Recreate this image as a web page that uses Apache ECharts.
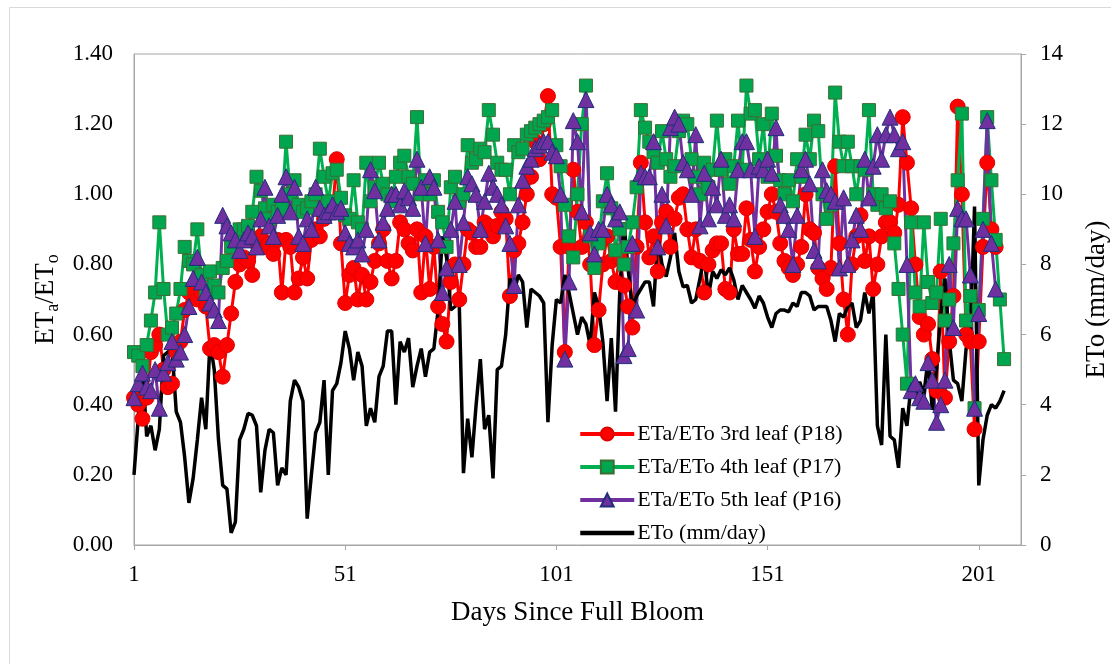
<!DOCTYPE html>
<html>
<head>
<meta charset="utf-8">
<script src="https://cdn.jsdelivr.net/npm/echarts@6/dist/echarts.min.js"></script>
<style>
html,body{margin:0;padding:0;background:#fff;}
#chart{width:1111px;height:664px;}
</style>
</head>
<body>
<div id="chart"></div>
<script>
// ---- data (day index = position + 1) ----
const xTicks = [1, 51, 101, 151, 201];
const leafNames = ['ETa/ETo 3rd leaf (P18)', 'ETa/ETo 4th leaf (P17)', 'ETa/ETo 5th leaf (P16)', 'ETo (mm/day)'];

const ratioP18 = [
 .42,.40,.36,.42,.55,.57,.60,.50,.45,.46,
 .55,.58,.67,.72,.73,.70,.72,.68,.56,.57,
 .55,.48,.57,.66,.75,.80,.82,.81,.77,.86,
 .88,.85,.86,.83,.87,.72,.87,.85,.72,.76,
 .82,.76,.87,.90,.88,.93,.96,.95,1.10,.86,
 .69,.77,.79,.70,.77,.70,.75,.81,.86,.90,
 .81,.76,.81,.92,.90,.86,.84,.90,.72,.88,
 .73,.85,.68,.63,.58,.75,.80,.70,.80,.90,
 .89,.85,.85,.92,.91,.88,.91,.95,.93,.71,
 .84,.86,.92,1.00,1.05,1.15,1.10,1.20,1.28,1.00,
 .99,.85,.55,.85,1.07,.95,.85,.92,.80,.57,
 .67,.80,.88,.81,.75,.82,.74,.68,.62,.85,
 1.09,.92,.82,.88,.78,.92,.95,.85,.93,.99,
 1.00,.90,.82,.90,.81,.72,.80,.84,.86,.86,
 .73,.72,.90,.83,.83,.96,.87,.78,.85,.90,
 .95,1.00,.95,.86,.81,.79,.77,.80,.85,1.00,
 .90,.89,.79,.76,.73,.79,1.08,.86,.70,.60,
 .80,.88,.94,.81,.88,.73,.80,.88,.92,.92,
 .89,.97,1.22,1.09,.96,.80,.65,.60,.63,.53,
 .44,.78,.42,.58,.71,1.25,1.00,.60,.58,.33,
 .58,.85,1.09,.90,.85
];

const ratioP17 = [
 .55,.54,.51,.57,.64,.72,.92,.73,.60,.62,
 .66,.73,.85,.81,.80,.90,.77,.72,.78,.74,
 .72,.79,.81,.85,.88,.90,.90,.91,.95,1.05,
 1.01,.96,.93,.97,.95,.96,1.15,1.00,1.04,.97,
 .95,.96,.98,1.00,1.13,1.05,.98,1.06,1.07,.99,
 .94,.93,1.04,.92,.90,1.09,.98,1.02,1.09,1.03,
 1.00,.98,1.05,1.09,1.11,1.05,1.03,1.22,1.00,1.04,
 1.00,1.04,.95,.92,.85,1.02,1.05,.98,1.00,1.14,
 1.09,1.10,1.13,1.12,1.24,1.17,1.09,1.07,1.07,1.00,
 1.14,1.12,1.13,1.17,1.18,1.19,1.20,1.21,1.22,1.24,
 1.14,1.08,.97,.88,.82,1.00,1.20,1.31,.88,.79,
 .86,.98,1.06,.96,.84,.90,.80,.85,.92,1.02,
 1.24,1.19,1.15,1.12,1.09,1.18,1.10,1.05,1.08,1.18,
 1.21,1.20,1.10,1.05,1.00,1.09,1.02,1.07,1.21,1.07,
 1.10,1.03,1.08,1.21,1.07,1.31,1.23,1.24,1.10,1.20,
 1.05,1.23,1.11,1.04,1.00,1.04,.98,1.10,1.05,1.17,
 1.10,1.21,1.18,1.00,.93,.97,1.29,1.15,1.08,1.15,
 1.08,1.00,1.08,1.07,1.24,1.00,.97,1.00,.96,.98,
 .86,.73,.60,.46,.92,.72,.68,.92,.75,.69,
 .72,.93,.64,.70,.86,1.04,1.23,.64,.71,.39,
 .67,.93,1.22,1.04,.87,.70,.53
];

const ratioP16 = [
 .42,.46,.49,.45,.44,.50,.39,.49,.52,.58,
 .53,.55,.60,.68,.76,.82,.75,.72,.69,.67,
 .64,.94,.91,.89,.87,.84,.87,.89,.88,.85,
 .93,1.02,.91,.88,.94,1.00,1.05,.95,1.02,.88,
 .86,.93,.90,1.02,.96,.94,.95,.97,.95,.96,
 .89,.86,.85,.87,.83,.90,1.07,1.01,.87,.92,
 .96,1.00,1.00,.97,1.01,.99,.96,1.10,1.02,.86,
 1.05,1.02,.87,.72,.79,.90,.98,.80,.92,1.05,
 1.03,1.00,.90,.98,1.06,1.02,1.00,.97,.91,.86,
 .74,.97,1.04,1.08,1.10,1.13,1.14,1.15,1.15,1.12,
 1.11,1.00,.53,.75,1.21,1.15,.95,1.27,.89,.83,
 .90,.90,1.00,.97,.93,.95,.54,.56,.86,.67,
 1.06,1.05,1.05,1.15,.85,1.00,.91,1.19,1.22,1.20,
 1.09,1.07,1.00,1.17,.91,1.06,.93,1.02,.97,1.10,
 .94,.97,.93,1.07,1.15,1.15,1.07,.88,1.08,1.07,
 1.10,1.06,1.19,.97,.94,.90,.80,.94,1.07,1.10,
 1.03,.84,.81,1.07,1.01,1.00,.98,.79,.99,.80,
 .87,.94,.90,1.10,.99,1.08,1.17,1.10,1.17,1.22,
 1.17,1.13,1.15,.80,.44,.46,.42,.41,.52,.47,
 .35,.40,.47,.80,.62,.96,.93,.93,.77,.39,
 .66,.90,1.21,.86,.73
];

const etoMmDay = [
 2.0,3.6,5.1,3.1,3.4,2.7,3.3,5.4,5.5,5.6,
 3.8,3.5,2.5,1.2,1.9,3.0,4.2,3.3,5.8,5.0,
 3.0,1.7,1.6,0.35,0.65,3.0,3.3,3.75,3.7,3.4,
 1.5,2.7,3.3,3.2,1.7,2.2,2.0,4.1,4.7,4.5,
 4.1,0.75,2.0,3.2,3.5,4.7,2.0,4.4,4.6,5.2,
 6.1,5.6,4.7,5.5,5.1,3.4,3.9,3.5,4.8,5.1,
 6.1,6.1,4.0,5.8,5.5,5.9,4.5,5.1,5.6,4.8,
 5.5,5.6,6.7,8.8,8.2,6.7,6.8,6.9,2.05,3.6,
 2.5,4.0,5.3,3.3,3.7,1.9,5.0,5.1,6.0,7.6,
 7.2,7.7,7.5,6.2,7.3,7.2,7.1,6.9,3.5,5.7,
 7.0,6.9,7.7,7.2,6.6,6.0,6.5,6.3,5.7,7.2,
 6.8,5.8,4.1,5.9,3.8,7.2,9.2,7.85,6.8,7.1,
 7.3,7.5,7.5,6.8,8.8,8.0,7.65,8.2,8.9,7.8,
 7.36,7.4,6.9,7.0,7.6,8.2,7.1,7.8,7.6,7.85,
 7.7,7.9,7.56,7.0,7.4,7.2,7.0,6.75,7.1,6.9,
 6.5,6.2,6.6,6.7,6.7,6.65,6.9,6.8,7.2,7.2,
 7.1,6.7,6.8,6.8,6.8,6.4,5.8,6.6,6.5,6.8,
 6.9,6.2,6.4,7.2,6.6,7.2,3.4,2.85,6.0,3.1,
 3.0,2.2,3.9,3.4,4.6,4.3,4.65,4.3,5.3,3.85,
 5.0,6.6,7.6,5.85,4.7,4.6,4.1,5.6,5.9,9.65,
 1.7,3.0,3.7,4.0,3.9,4.1,4.4
];

// ---- chart ----
const toPairs = arr => arr.map((v, i) => [i + 1, v]);
const FONT = '"Liberation Serif", "Times New Roman", serif';
const chart = echarts.init(document.getElementById('chart'), null, {renderer: 'canvas'});

const option = {
  animation: false,
  backgroundColor: '#ffffff',
  textStyle: {fontFamily: FONT, color: '#000'},
  graphic: [{
    type: 'rect', left: 7, top: 5, silent: true,
    shape: {width: 1120, height: 680},
    style: {fill: 'none', stroke: '#d9d9d9', lineWidth: 1}
  }],
  grid: {left: 134, right: 90, top: 54, bottom: 119, show: true,
         outerBoundsMode: 'none', containLabel: false,
         borderColor: '#a6a6a6', borderWidth: 1},
  legend: {
    orient: 'vertical', left: 573, top: 418,
    itemWidth: 54, itemHeight: 16, itemGap: 11,
    textStyle: {fontFamily: FONT, fontSize: 22, color: '#000', padding: [0, 0, 0, -2]},
    data: [
      {name: leafNames[0], lineStyle: {width: 4}},
      {name: leafNames[1], lineStyle: {width: 4}},
      {name: leafNames[2], lineStyle: {width: 4}},
      {name: leafNames[3], itemStyle: {opacity: 0}, lineStyle: {width: 4.5, color: '#000'}}
    ]
  },
  xAxis: {
    type: 'value', min: 1, max: 211,
    splitLine: {show: false},
    axisLine: {lineStyle: {color: '#a6a6a6', width: 1}},
    axisTick: {show: true, length: 5, customValues: xTicks, lineStyle: {color: '#a6a6a6'}},
    axisLabel: {customValues: xTicks, fontFamily: FONT, fontSize: 23, color: '#000', margin: 18},
    name: 'Days Since Full Bloom', nameLocation: 'middle', nameGap: 54,
    nameTextStyle: {fontFamily: FONT, fontSize: 27, color: '#000'}
  },
  yAxis: [{
    type: 'value', min: 0, max: 1.4, interval: 0.2, position: 'left',
    splitLine: {show: false},
    axisLine: {show: true, lineStyle: {color: '#a6a6a6'}},
    axisTick: {show: false},
    axisLabel: {formatter: v => v.toFixed(2), fontFamily: FONT, fontSize: 23, color: '#000', margin: 21},
    name: 'ET{s|a}/ET{s|o}', nameLocation: 'middle', nameGap: 58, nameRotate: 90,
    nameTextStyle: {fontFamily: FONT, fontSize: 27, color: '#000',
      rich: {s: {fontFamily: FONT, fontSize: 18, color: '#000', padding: [14, 0, 0, 0]}}}
  }, {
    type: 'value', min: 0, max: 14, interval: 2, position: 'right',
    splitLine: {show: false},
    axisLine: {show: true, lineStyle: {color: '#a6a6a6'}},
    axisTick: {show: true, inside: false, length: 5, lineStyle: {color: '#a6a6a6'}},
    axisLabel: {fontFamily: FONT, fontSize: 23, color: '#000', margin: 19},
    name: 'ETo (mm/day)', nameLocation: 'middle', nameGap: 62, nameRotate: 90,
    nameTextStyle: {fontFamily: FONT, fontSize: 27, color: '#000'}
  }],
  series: [{
    name: leafNames[0], type: 'line', yAxisIndex: 0, data: toPairs(ratioP18),
    symbol: 'circle', symbolSize: 15,
    lineStyle: {color: '#ff0000', width: 3},
    itemStyle: {color: '#ff0000', borderColor: '#e00000', borderWidth: 1}
  }, {
    name: leafNames[1], type: 'line', yAxisIndex: 0, data: toPairs(ratioP17),
    symbol: 'rect', symbolSize: 13,
    lineStyle: {color: '#00b050', width: 3},
    itemStyle: {color: '#00a550', borderColor: '#3b6e32', borderWidth: 1}
  }, {
    name: leafNames[2], type: 'line', yAxisIndex: 0, data: toPairs(ratioP16),
    symbol: 'triangle', symbolSize: 16,
    lineStyle: {color: '#7030a0', width: 3},
    itemStyle: {color: '#7030a0', borderColor: '#1f2f7a', borderWidth: 1}
  }, {
    name: leafNames[3], type: 'line', yAxisIndex: 1, data: toPairs(etoMmDay),
    symbol: 'none', showSymbol: false,
    lineStyle: {color: '#000000', width: 3.5},
    itemStyle: {color: '#000000'}
  }]
};
chart.setOption(option);
</script>
</body>
</html>
